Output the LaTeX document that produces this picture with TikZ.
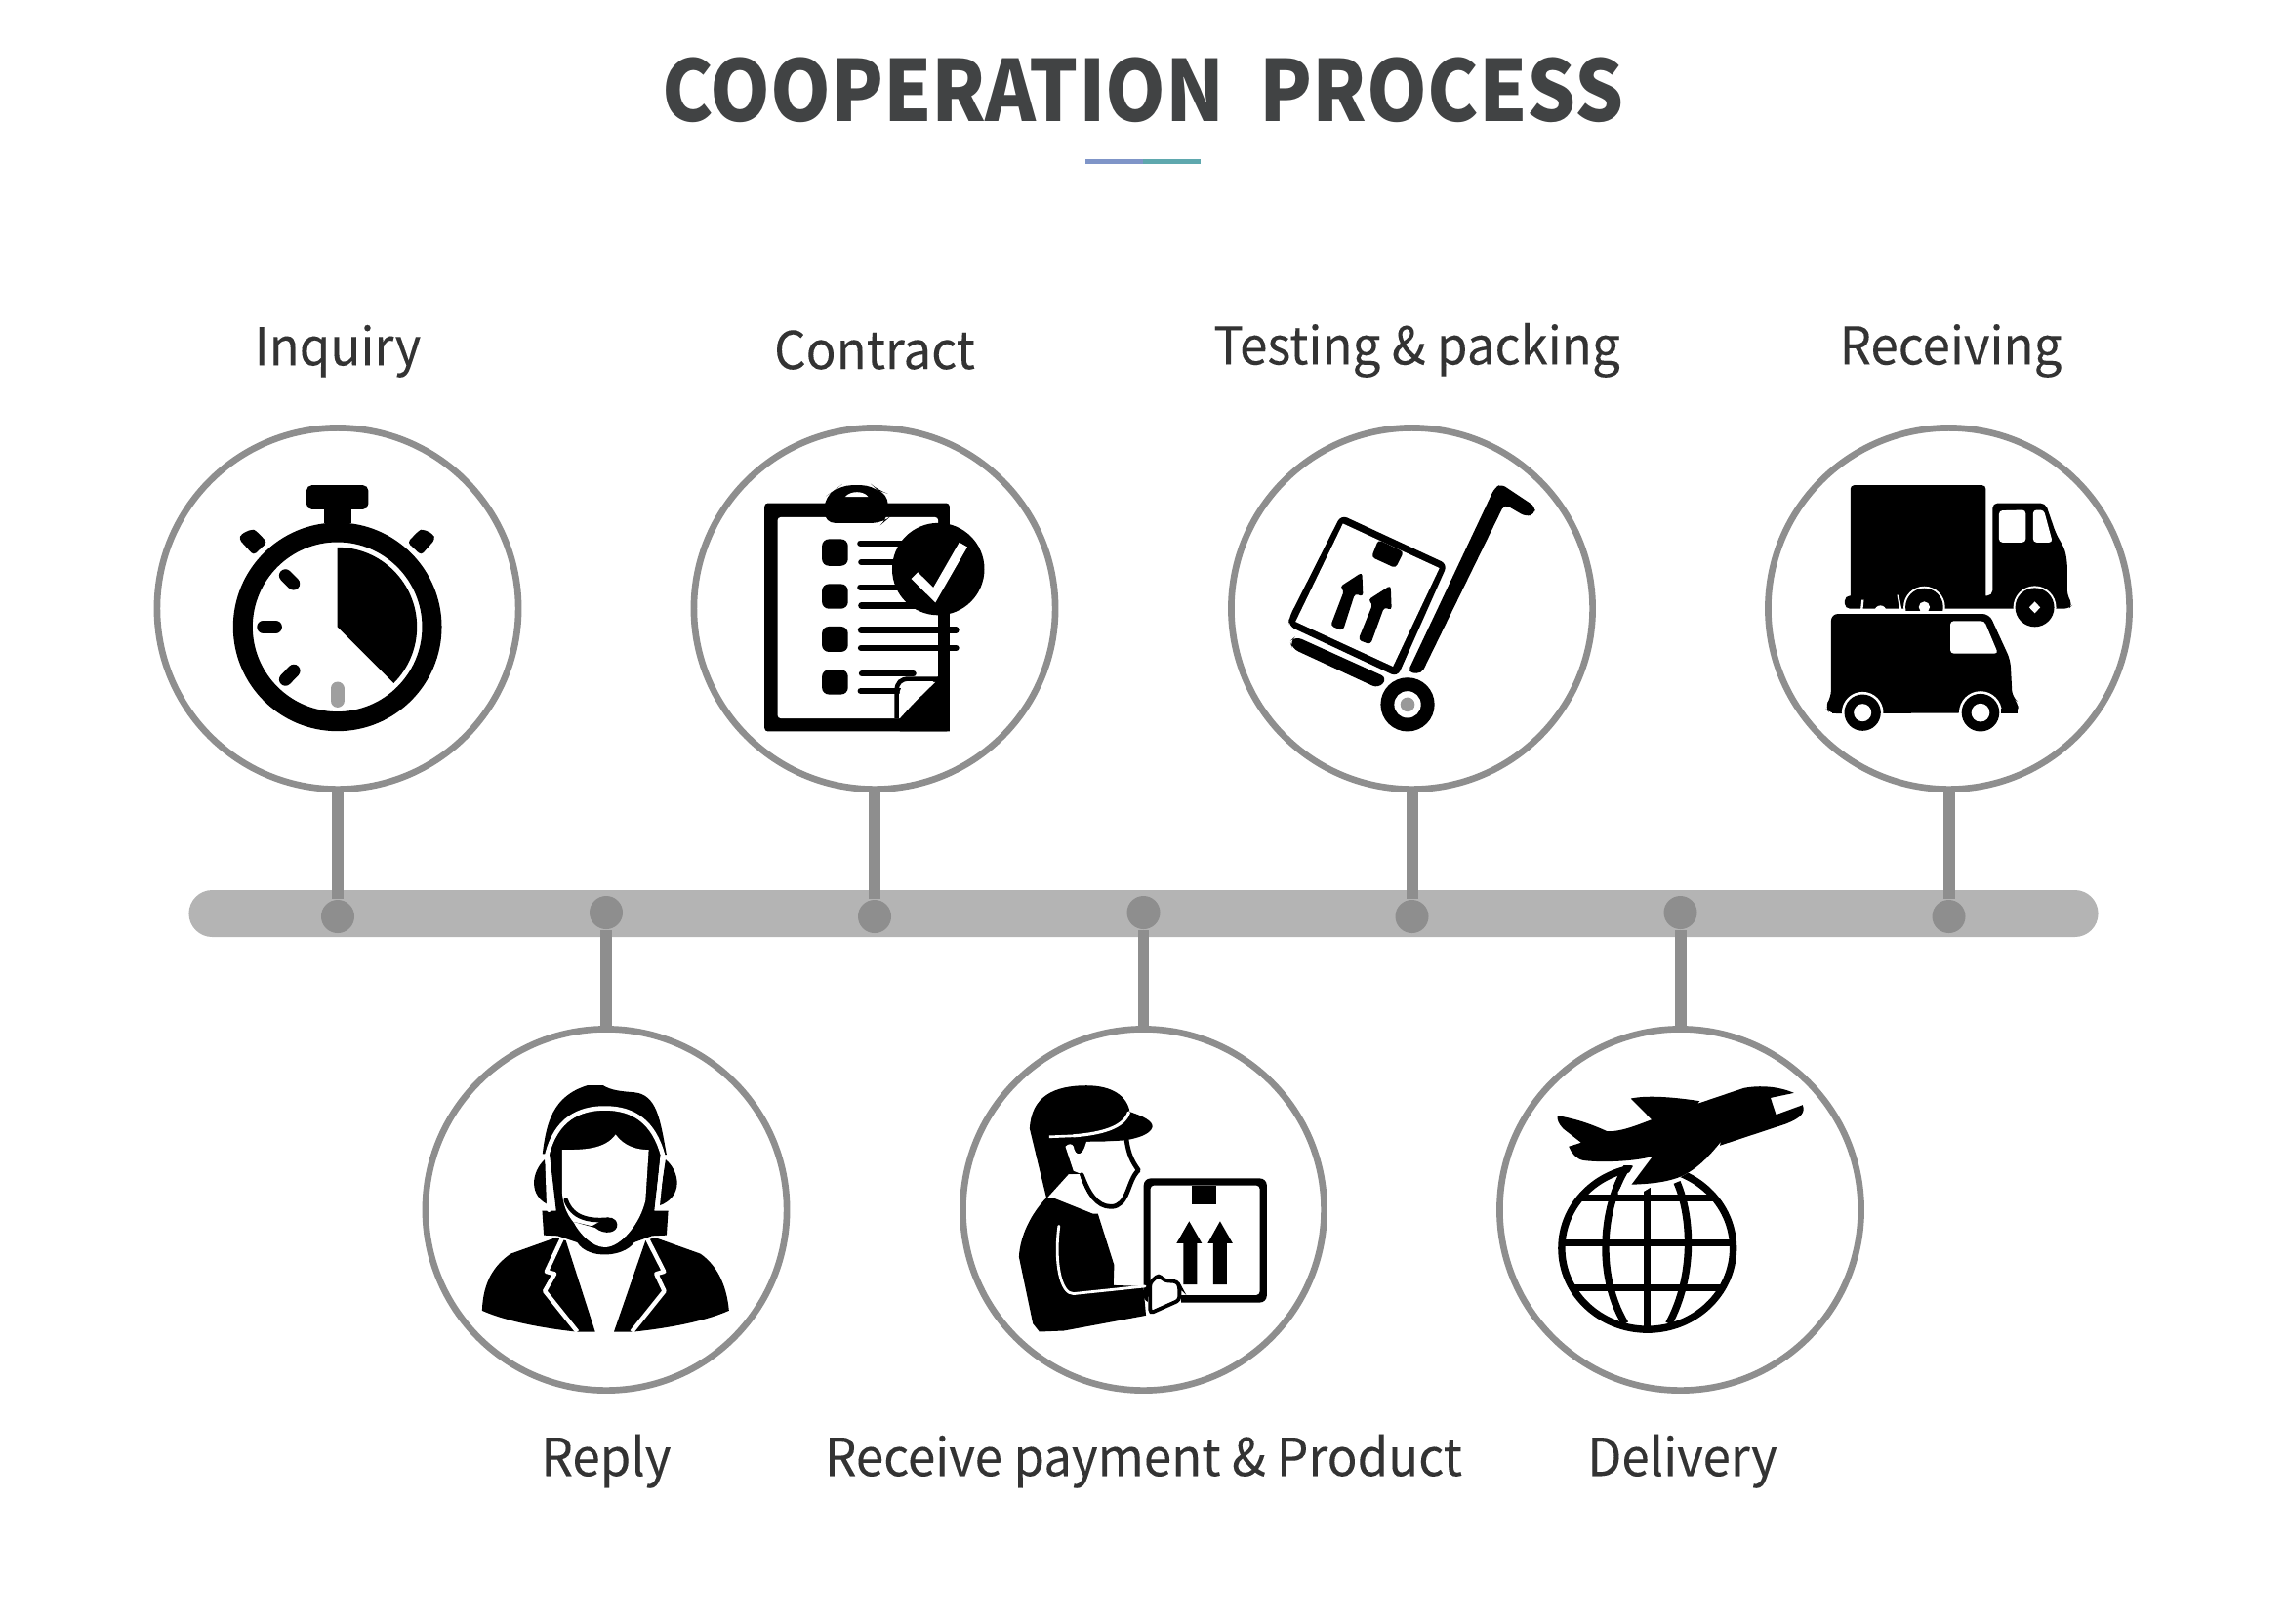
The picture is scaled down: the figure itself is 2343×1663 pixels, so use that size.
\documentclass[tikz,border=0pt]{standalone}
\usepackage{fontspec}
\usetikzlibrary{positioning}

\newfontfamily\procfont[FakeStretch=0.955, FakeBold=0.12]{Noto Sans CJK SC}
\newfontfamily\headfont[FakeStretch=0.91]{Noto Sans CJK SC}
\definecolor{ringgrey}{HTML}{8E8E8E}
\definecolor{bargrey}{HTML}{B4B4B4}
\definecolor{titlegrey}{HTML}{414344}
\definecolor{labelgrey}{HTML}{333333}
\definecolor{ruleblue}{HTML}{7F95C8}
\definecolor{ruleteal}{HTML}{5FA8AE}

\begin{document}
\begin{tikzpicture}[
    x=0.01cm, y=-0.01cm,
    ring/.style={circle, draw=ringgrey, line width=1.9pt, fill=white, minimum size=3.7cm, inner sep=0pt},
    knob/.style={circle, fill=ringgrey, minimum size=0.34cm, inner sep=0pt},
    stem/.style={draw=ringgrey, line width=3.4pt},
    steplabel/.style={font=\procfont\fontsize{15.2}{18}\selectfont, text=labelgrey, inner sep=0pt},
    iconat/.style 2 args={shift={(#1,#2)}, x=0.00333cm, y=-0.00333cm},
    whiteline/.style={draw=white, line cap=round, line join=round},
    blackline/.style={draw=black, line cap=round, line join=round}
]
    \useasboundingbox (0,0) rectangle (2343,1663);

    \node[font=\headfont\bfseries\fontsize{24.6}{30}\selectfont, text=titlegrey, inner sep=0pt] (title) at (1171,92) {COOPERATION\ \ PROCESS};
    \fill[ruleblue] (1112,163) rectangle (1171,168);
    \fill[ruleteal] (1171,163) rectangle (1230,168);

    \node[fill=bargrey, minimum width=19.55cm, minimum height=0.48cm, rounded corners=0.24cm, inner sep=0pt] (bar) at (1171.5,936) {};

    \node[ring] (inq) at (346,623.5) {};
    \node[ring] (con) at (896,623.5) {};
    \node[ring] (tes) at (1446.5,623.5) {};
    \node[ring] (rec) at (1996.5,623.5) {};
    \node[ring] (rep) at (621,1239.5) {};
    \node[ring] (pay) at (1171.5,1239.5) {};
    \node[ring] (del) at (1721.5,1239.5) {};

    \node[knob] (kinq) at (346,939) {};
    \node[knob] (kcon) at (896,939) {};
    \node[knob] (ktes) at (1446.5,939) {};
    \node[knob] (krec) at (1996.5,939) {};
    \node[knob] (krep) at (621,935) {};
    \node[knob] (kpay) at (1171.5,935) {};
    \node[knob] (kdel) at (1721.5,935) {};

    \draw[stem] (inq) -- (kinq);
    \draw[stem] (con) -- (kcon);
    \draw[stem] (tes) -- (ktes);
    \draw[stem] (rec) -- (krec);
    \draw[stem] (rep) -- (krep);
    \draw[stem] (pay) -- (kpay);
    \draw[stem] (del) -- (kdel);

    \node[steplabel, above=0.475cm of inq] (linq) {Inquiry};
    \node[steplabel, above=0.555cm of con] (lcon) {Contract};
    \node[steplabel, above=0.475cm of tes, xshift=0.05cm] (ltes) {Testing \& packing};
    \node[steplabel, above=0.475cm of rec, xshift=0.02cm] (lrec) {Receiving};
    \node[steplabel, below=0.41cm of rep] (lrep) {Reply};
    \node[steplabel, below=0.41cm of pay] (lpay) {Receive payment \& Product};
    \node[steplabel, below=0.41cm of del, xshift=0.02cm] (ldel) {Delivery};

    \begin{scope}[iconat={130}{420}]
        \fill[rounded corners=1.5pt] (553,232) rectangle (743,306);
        \fill (606,300) rectangle (690,350);
        \fill[rounded corners=1pt] (432,408) -- (390,447) -- (345,398) -- (352,382) -- (385,367) -- (398,372) -- cycle;
        \fill[rounded corners=1pt] (864,408) -- (906,447) -- (949,398) -- (942,382) -- (911,367) -- (898,372) -- cycle;
        \draw[line width=5.7pt] (648,668) circle[radius=291];
        \fill (648,668) -- (648,423) arc[start angle=-90, end angle=45, radius=245] -- cycle;
        \draw[blackline, line width=3.7pt] (420,668) -- (458,668);
        \draw[blackline, line width=3.7pt] (488,510) -- (513,535);
        \draw[blackline, line width=3.7pt] (488,830) -- (514,803);
        \draw[draw=ringgrey!85, line cap=round, line width=4pt] (648,858) -- (648,895);
    \end{scope}

    \begin{scope}[iconat={690}{420}]
        \fill[rounded corners=1pt] (280,287) rectangle (850,990);
        \fill[white, rounded corners=1pt] (320,330) rectangle (815,950);
        \fill[rounded corners=3pt] (465,348) -- (465,268) -- (495,248) -- (515,232) -- (612,232) -- (630,248) -- (660,258) -- (660,335) -- (645,348) -- cycle;
        \fill[white] (528,268) .. controls (545,248) and (585,248) .. (600,268) -- cycle;
        \fill[rounded corners=2pt] (457,398) rectangle (537,480);
        \fill[rounded corners=2pt] (457,536) rectangle (537,612);
        \fill[rounded corners=2pt] (457,667) rectangle (537,745);
        \fill[rounded corners=2pt] (457,800) rectangle (537,876);
        \draw[blackline, line width=1.8pt] (575,411) -- (720,411);
        \draw[blackline, line width=1.8pt] (578,469) -- (720,469);
        \draw[blackline, line width=1.8pt] (575,546) -- (720,546);
        \draw[blackline, line width=1.8pt] (578,602) -- (760,602);
        \draw[blackline, line width=1.8pt] (577,678) -- (870,678);
        \draw[blackline, line width=1.8pt] (577,733) -- (870,733);
        \draw[blackline, line width=1.8pt] (580,812) -- (738,812);
        \draw[blackline, line width=1.8pt] (576,865) -- (738,865);
        \fill (815,490) circle[radius=142];
        \fill (815,620) rectangle (850,830);
        \fill (697,950) -- (815,820) -- (850,820) -- (850,990) -- (697,990) -- cycle;
        \draw[line width=1.3pt] (687,950) -- (687,865) .. controls (687,840) and (700,828) .. (725,828) -- (815,828);
        \fill[white] (696,945) -- (696,875) .. controls (696,850) and (715,840) .. (735,840) -- (806,838) -- cycle;
        \draw[whiteline, line cap=butt, line join=miter, line width=2.7pt] (742,510) -- (803,570) -- (892,415);
    \end{scope}

    \begin{scope}[iconat={1250}{420}]
        \fill[rounded corners=2pt] (372,323) -- (700,475) -- (546,822) -- (210,665) -- (212,640) -- cycle;
        \fill[white] (378,350) -- (675,487) -- (532,790) -- (232,652) -- cycle;
        \fill[rounded corners=1pt] (487,400) -- (565,437) -- (540,487) -- (466,453) -- cycle;
        \fill[rounded corners=1pt] (437,500) -- (440,575) -- (415,565) -- (378,680) -- (340,665) -- (382,555) -- (368,545) -- cycle;
        \fill[rounded corners=1pt] (525,540) -- (528,617) -- (505,607) -- (463,722) -- (425,708) -- (470,597) -- (455,585) -- cycle;
        \fill[rounded corners=1.5pt] (577,808) -- (620,812) -- (875,290) -- (940,328) -- (968,322) -- (970,298) -- (865,228) -- (845,240) -- cycle;
        \fill[rounded corners=2pt] (232,697) -- (515,825) -- (488,858) -- (222,735) -- (215,712) -- cycle;
        \fill (577,907) circle[radius=83];
        \fill[white] (577,907) circle[radius=41];
        \fill[ringgrey!90] (577,907) circle[radius=22];
    \end{scope}

    \begin{scope}[iconat={1800}{420}]
        \fill[rounded corners=1pt] (288,232) rectangle (704,590);
        \fill[rounded corners=1.5pt] (270,572) -- (270,612) -- (960,612) -- (972,600) -- (955,570) -- (955,470) -- (948,430) -- (920,380) -- (888,287) -- (725,287) -- (725,572) -- cycle;
        \fill[white, rounded corners=1pt] (745,408) -- (745,310) -- (827,308) -- (827,408) -- cycle;
        \fill[white, rounded corners=1pt] (850,408) -- (850,308) -- (883,308) -- (910,408) -- cycle;
        \fill[white] (855,608) circle[radius=66];
        \fill (855,608) circle[radius=60];
        \fill[white] (855,590) -- (872,608) -- (855,626) -- (838,608) -- cycle;
        \fill[white] (515,607) circle[radius=64];
        \fill (515,607) circle[radius=58];
        \fill[white] (515,607) circle[radius=17];
        \fill[white] (380,620) circle[radius=18];
        \fill[white] (322,585) -- (329,585) -- (325,622) -- (318,622) -- cycle;
        \fill[white] (431,570) -- (437,570) -- (447,622) -- (440,622) -- cycle;
        \fill[white] (260,620) rectangle (620,640);
        \fill[rounded corners=2pt] (228,885) -- (228,628) -- (715,628) -- (780,770) -- (786,885) -- (805,900) -- (803,932) -- (225,935) -- (208,915) -- cycle;
        \fill[white, rounded corners=1pt] (595,750) -- (595,650) -- (700,650) -- (742,750) -- cycle;
        \fill[white] (325,932) circle[radius=64];
        \fill[white] (688,932) circle[radius=66];
        \fill (325,932) circle[radius=56];
        \fill (688,932) circle[radius=58];
        \fill[white] (325,932) circle[radius=27];
        \fill[white] (688,932) circle[radius=28];
        \fill (230,935) rectangle (262,930);
        \fill (750,935) rectangle (803,920);
    \end{scope}

    \begin{scope}[iconat={420}{1040}]
        \fill (415,445) .. controls (375,480) and (360,560) .. (435,588) -- cycle;
        \fill (787,445) .. controls (830,480) and (845,560) .. (765,588) -- cycle;
        \fill (408,428) .. controls (420,330) and (440,250) .. (545,217) -- (595,217) .. controls (620,232) and (650,235) .. (690,238) .. controls (760,245) and (770,320) .. (790,430) -- cycle;
        \fill (407,603) -- (450,603) -- (430,430) .. controls (450,330) and (520,295) .. (600,295) .. controls (690,295) and (750,340) .. (772,430) -- (752,603) -- (795,603) -- (790,678) -- (745,680) -- (690,700) .. controls (660,745) and (550,755) .. (515,700) -- (455,680) -- (412,678) -- cycle;
        \draw[whiteline, line width=1.3pt] (428,600) -- (422,430) .. controls (450,320) and (520,287) .. (600,287) .. controls (690,287) and (750,330) .. (778,430) -- (762,590);
        \fill[white] (468,415) .. controls (530,415) and (600,415) .. (633,368) .. controls (660,405) and (700,415) .. (735,415) -- (725,570) .. controls (710,640) and (650,715) .. (600,715) .. controls (560,715) and (520,670) .. (505,640) .. controls (480,610) and (470,580) .. (468,540) -- cycle;
        \draw[blackline, line width=1.3pt] (480,570) .. controls (500,625) and (550,635) .. (610,630);
        \fill (505,637) -- (570,655) .. controls (600,680) and (640,670) .. (638,645) .. controls (635,622) and (610,618) .. (595,630) -- (560,650) -- cycle;
        \fill (450,685) -- (310,735) .. controls (260,770) and (225,820) .. (222,910) .. controls (300,945) and (420,965) .. (510,975) -- (570,975) -- (480,695) -- cycle;
        \fill (754,685) -- (894,735) .. controls (944,770) and (975,830) .. (982,910) .. controls (904,945) and (784,965) .. (690,975) -- (628,975) -- (725,695) -- cycle;
        \draw[whiteline, line cap=butt, line width=1.25pt] (468,688) -- (420,790) -- (445,797) -- (415,850) -- (515,975);
        \draw[whiteline, line cap=butt, line width=1.25pt] (730,688) -- (782,790) -- (758,797) -- (783,850) -- (683,975);
    \end{scope}

    \begin{scope}[iconat={980}{1040}]
        \fill[rounded corners=2pt] (576,503) rectangle (955,885);
        \fill[white, rounded corners=1pt] (597,525) rectangle (933,862);
        \fill[white] (590,862) rectangle (690,890);
        \fill (724,525) rectangle (800,583);
        \fill (716,635) -- (755,703) -- (740,703) -- (740,830) -- (698,830) -- (698,703) -- (677,703) -- cycle;
        \fill (811,635) -- (850,703) -- (832,703) -- (832,830) -- (790,830) -- (790,703) -- (773,703) -- cycle;
        \fill (225,350) .. controls (230,250) and (300,217) .. (400,217) .. controls (480,217) and (525,250) .. (533,298) .. controls (570,310) and (605,325) .. (603,345) .. controls (595,370) and (550,380) .. (523,385) -- (400,395) -- (385,490) -- (345,490) -- (277,565) -- cycle;
        \fill[white] (335,405) .. controls (345,395) and (355,395) .. (360,405) .. controls (365,435) and (385,435) .. (395,405) -- (400,390) -- (523,388) .. controls (530,430) and (540,450) .. (560,478) .. controls (530,510) and (530,590) .. (470,590) .. controls (420,590) and (400,530) .. (385,490) -- (360,480) -- cycle;
        \draw[blackline, line width=1.35pt] (385,492) .. controls (405,545) and (430,590) .. (475,590) .. controls (530,590) and (525,510) .. (560,478) .. controls (540,450) and (530,430) .. (523,385);
        \draw[whiteline, line cap=butt, line width=0.75pt] (285,375) -- (360,372);
        \draw[whiteline, line width=0.9pt] (360,372) .. controls (450,365) and (515,345) .. (530,300);
        \fill (295,562) -- (420,612) -- (435,612) -- (485,770) -- (483,832) -- (575,835) -- (583,925) -- (330,972) -- (255,975) -- (235,950) -- (192,745) .. controls (195,680) and (230,610) .. (277,562) -- cycle;
        \fill[white] (296,550) -- (345,492) -- (378,490) .. controls (390,530) and (410,570) .. (430,590) -- (418,610) -- cycle;
        \draw[whiteline, line width=0.8pt] (315,650) .. controls (300,760) and (320,860) .. (360,858) -- (580,835);
        \draw[fill=white, line width=1.1pt, rounded corners=1pt] (595,825) -- (622,800) -- (640,818) -- (678,820) -- (686,835) -- (686,878) -- (596,918) -- cycle;
    \end{scope}

    \begin{scope}[iconat={1530}{1040}]
        \draw[line width=2.1pt] (474,718) ellipse[x radius=264, y radius=250];
        \draw[line width=2.1pt] (265,563) -- (683,563);
        \draw[line width=2.1pt] (212,702) -- (736,702);
        \draw[line width=2.1pt] (246,840) -- (702,840);
        \draw[line width=2.1pt] (473,530) -- (473,962);
        \draw[line width=2.1pt] (415,462) .. controls (340,570) and (310,790) .. (405,950);
        \draw[line width=2.1pt] (565,515) .. controls (610,620) and (620,800) .. (540,950);
        \fill[white] (372,440) -- (630,440) -- (618,475) -- (555,510) -- (485,530) -- (455,548) -- (382,548) -- (430,465) -- cycle;
        \fill[white] (345,440) rectangle (430,462);
        \fill (197,310) .. controls (260,320) and (310,340) .. (350,358) .. controls (390,360) and (440,340) .. (487,322) -- (423,257) .. controls (480,245) and (570,255) .. (635,265) -- (628,273) -- (770,225) .. controls (820,215) and (880,220) .. (925,240) -- (853,255) -- (870,307) -- (952,277) .. controls (960,300) and (950,315) .. (900,335) -- (697,402) -- (700,390) .. controls (660,440) and (620,480) .. (570,500) .. controls (520,518) and (470,520) .. (425,522) -- (490,435) .. controls (440,450) and (340,455) .. (280,448) .. controls (255,445) and (240,425) .. (232,405) -- (270,393) -- (215,350) .. controls (200,335) and (195,320) .. (197,310) -- cycle;
    \end{scope}
\end{tikzpicture}
\end{document}
